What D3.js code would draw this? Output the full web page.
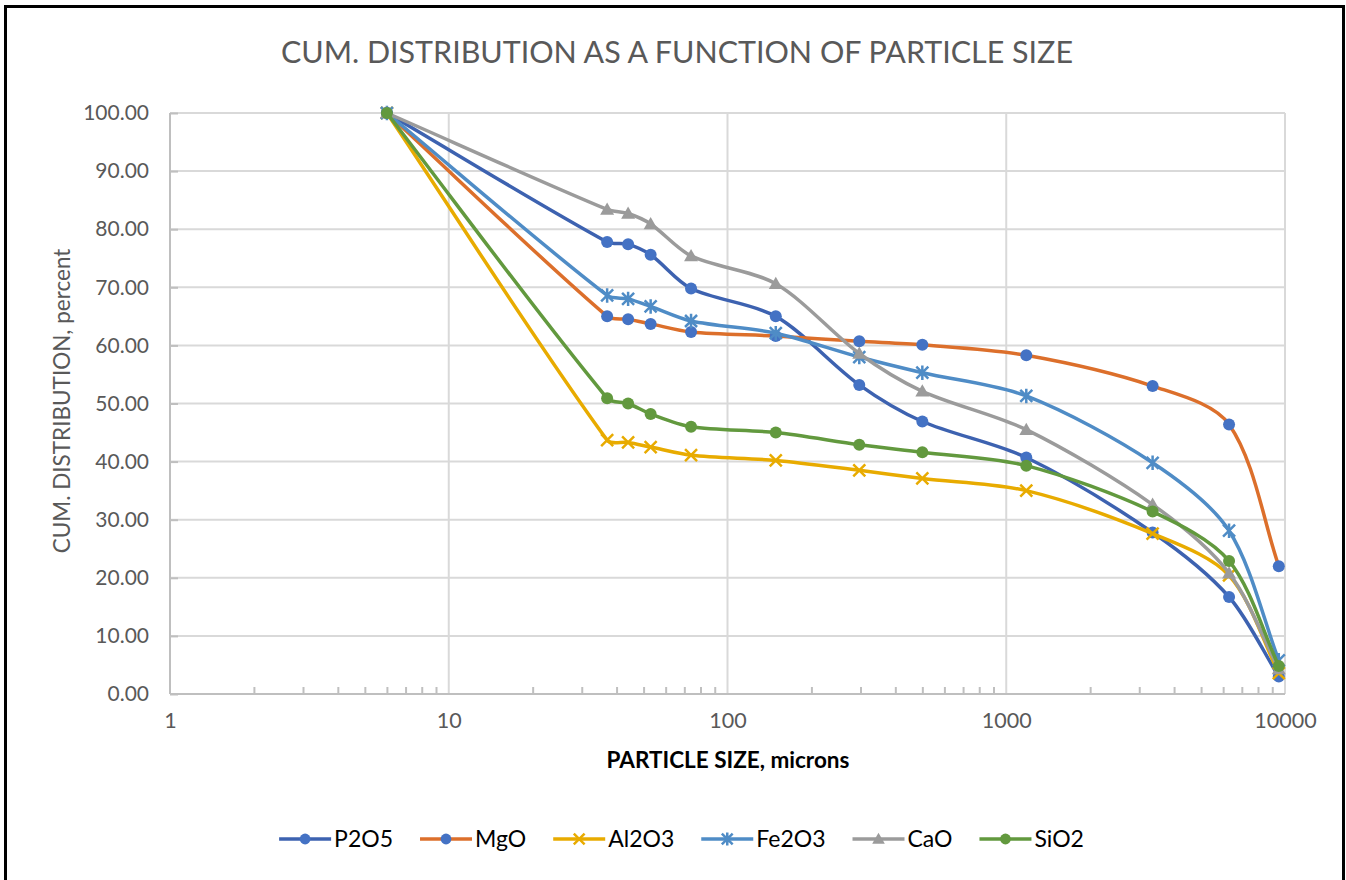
<!DOCTYPE html>
<html>
<head>
<meta charset="utf-8">
<script src="https://cdn.jsdelivr.net/npm/d3@7"></script>
<style>
html,body{margin:0;padding:0;background:#fff;}
svg{display:block;font-family:Lato,"Open Sans",sans-serif;}
</style>
</head>
<body>
<svg id="chart" width="1346" height="880"></svg>
<script>
// ---- data ----
const sizes = [6, 37, 44, 53, 74, 149, 297, 500, 1180, 3350, 6300, 9500];
const P2O5  = [100, 77.8, 77.4, 75.6, 69.8, 65.0, 53.2, 46.9, 40.7, 27.8, 16.7, 3.0];
const MgO   = [100, 65.0, 64.5, 63.7, 62.3, 61.6, 60.7, 60.1, 58.3, 53.0, 46.4, 22.0];
const Al2O3 = [100, 43.7, 43.3, 42.5, 41.1, 40.2, 38.5, 37.1, 35.0, 27.6, 20.4, 3.6];
const Fe2O3 = [100, 68.6, 68.0, 66.7, 64.2, 62.1, 58.0, 55.3, 51.3, 39.8, 28.1, 5.8];
const CaO   = [100, 83.4, 82.7, 80.9, 75.4, 70.6, 58.6, 52.1, 45.5, 32.6, 20.8, 4.3];
const SiO2  = [100, 50.9, 50.0, 48.2, 46.0, 45.0, 42.9, 41.6, 39.3, 31.4, 22.9, 4.8];
const seriesNames = ["P2O5", "MgO", "Al2O3", "Fe2O3", "CaO", "SiO2"];
const yTicks = [0, 10, 20, 30, 40, 50, 60, 70, 80, 90, 100];
const xTicks = [1, 10, 100, 1000, 10000];

const seriesValues = [P2O5, MgO, Al2O3, Fe2O3, CaO, SiO2];
const styles = [
  {line:"#3d62b0", mark:"#4472c4", shape:"circle"},
  {line:"#dc6f2b", mark:"#4472c4", shape:"circle"},
  {line:"#e8ab00", mark:"#e8ab00", shape:"x"},
  {line:"#4f8cc6", mark:"#4f8cc6", shape:"star"},
  {line:"#9b9b9b", mark:"#9b9b9b", shape:"triangle"},
  {line:"#62993e", mark:"#62993e", shape:"circle"}
];

const svg = d3.select("#chart");
const L = 170, R = 1285, T = 113, B = 694;
const x = d3.scaleLog().domain([1, 10000]).range([L, R]);
const y = d3.scaleLinear().domain([0, 100]).range([B, T]);

// frame
svg.append("rect").attr("x", 5.5).attr("y", 6.5).attr("width", 1338).attr("height", 900)
  .attr("fill", "none").attr("stroke", "#000").attr("stroke-width", 3);

// title
svg.append("text").attr("x", 677).attr("y", 63).attr("text-anchor", "middle")
  .attr("fill", "#595959").style("font-size", "30px")
  .attr("textLength", 792).attr("lengthAdjust", "spacingAndGlyphs")
  .text("CUM. DISTRIBUTION AS A FUNCTION OF PARTICLE SIZE");

// gridlines
const grid = svg.append("g");
grid.selectAll("line.h").data(yTicks.filter(d => d > 0)).join("line")
  .attr("x1", L).attr("x2", R).attr("y1", d => y(d)).attr("y2", d => y(d))
  .attr("stroke", "#d9d9d9").attr("stroke-width", 2);
grid.selectAll("line.v").data(xTicks.filter(d => d > 1)).join("line")
  .attr("x1", d => x(d)).attr("x2", d => x(d)).attr("y1", T).attr("y2", B)
  .attr("stroke", "#d9d9d9").attr("stroke-width", 2);

// axes
const yAxis = svg.append("g").attr("transform", `translate(${L},0)`)
  .call(d3.axisLeft(y).tickValues(yTicks).tickFormat(d3.format(".2f")).tickSize(-8).tickPadding(21));
yAxis.select(".domain").attr("stroke", "#bfbfbf").attr("stroke-width", 2).attr("d", `M0,${T}V${B}`);
yAxis.selectAll(".tick line").attr("stroke", "#bfbfbf").attr("stroke-width", 2);
yAxis.selectAll("text").attr("fill", "#595959").style("font-size", "21px").style("font-family", "Lato");

const minor = [];
for (let dec = 1; dec < 10000; dec *= 10) for (let k = 2; k <= 9; k++) minor.push(dec * k);
const xMinor = svg.append("g").attr("transform", `translate(0,${B})`)
  .call(d3.axisBottom(x).tickValues(minor).tickFormat("").tickSize(-7));
xMinor.select(".domain").remove();
xMinor.selectAll(".tick line").attr("stroke", "#bfbfbf").attr("stroke-width", 2);

const xAxis = svg.append("g").attr("transform", `translate(0,${B})`)
  .call(d3.axisBottom(x).tickValues(xTicks).tickFormat(d => String(d)).tickSize(0).tickPadding(19));
xAxis.select(".domain").attr("stroke", "#bfbfbf").attr("stroke-width", 2).attr("d", `M${L},0H${R}`);
xAxis.selectAll("text").attr("fill", "#595959").style("font-size", "21.5px").style("font-family", "Lato");

// axis titles
svg.append("text").attr("transform", "translate(70,401) rotate(-90)").attr("text-anchor", "middle")
  .attr("fill", "#595959").style("font-size", "22.5px").text("CUM. DISTRIBUTION, percent");
svg.append("text").attr("x", 728).attr("y", 768).attr("text-anchor", "middle")
  .attr("fill", "#000").style("font-size", "22.5px").style("font-weight", "bold")
  .text("PARTICLE SIZE, microns");

// markers
function drawMarker(g, shape, color, cx, cy, s) {
  s = s || 1;
  if (shape === "circle") {
    g.append("circle").attr("cx", cx).attr("cy", cy).attr("r", 6 * s).attr("fill", color);
  } else if (shape === "triangle") {
    const h = 7 * s;
    g.append("path").attr("d", `M${cx},${cy - h}L${cx + h},${cy + h * 0.75}L${cx - h},${cy + h * 0.75}Z`).attr("fill", color);
  } else if (shape === "x") {
    const h = 6 * s;
    g.append("path").attr("d", `M${cx - h},${cy - h}L${cx + h},${cy + h}M${cx - h},${cy + h}L${cx + h},${cy - h}`)
      .attr("stroke", color).attr("stroke-width", 2.5).attr("fill", "none");
  } else if (shape === "star") {
    const h = 6 * s;
    g.append("path").attr("d", `M${cx - h},${cy - h}L${cx + h},${cy + h}M${cx - h},${cy + h}L${cx + h},${cy - h}M${cx},${cy - h * 1.2}L${cx},${cy + h * 1.2}`)
      .attr("stroke", color).attr("stroke-width", 2.5).attr("fill", "none");
  }
}

// Excel-like smoothing: tangent from neighbours, handle length proportional to segment length
function ExcelCurve(context) { this._context = context; }
ExcelCurve.prototype = {
  areaStart() {}, areaEnd() {},
  lineStart() { this._p = []; },
  point(px, py) { this._p.push([+px, +py]); },
  lineEnd() {
    const p = this._p, n = p.length, c = this._context, k = 0.3;
    if (!n) return;
    const tan = p.map((q, i) => {
      const a = p[Math.max(0, i - 1)], b = p[Math.min(n - 1, i + 1)];
      const dx = b[0] - a[0], dy = b[1] - a[1], l = Math.hypot(dx, dy) || 1;
      return [dx / l, dy / l];
    });
    c.moveTo(p[0][0], p[0][1]);
    for (let i = 0; i < n - 1; i++) {
      const a = p[i], b = p[i + 1];
      const d = Math.hypot(b[0] - a[0], b[1] - a[1]) * k;
      c.bezierCurveTo(a[0] + tan[i][0] * d, a[1] + tan[i][1] * d,
                      b[0] - tan[i + 1][0] * d, b[1] - tan[i + 1][1] * d, b[0], b[1]);
    }
  }
};
const excelCurve = ctx => new ExcelCurve(ctx);

const line = d3.line().x(d => x(d[0])).y(d => y(d[1])).curve(excelCurve);
const plot = svg.append("g");
seriesValues.forEach((vals, i) => {
  const pts = sizes.map((s, j) => [s, vals[j]]);
  const g = plot.append("g");
  g.append("path").attr("d", line(pts)).attr("fill", "none")
    .attr("stroke", styles[i].line).attr("stroke-width", 3.5).attr("stroke-linejoin", "round").attr("stroke-linecap", "round");
  pts.forEach(p => drawMarker(g, styles[i].shape, styles[i].mark, x(p[0]), y(p[1])));
});

// legend
const leg = svg.append("g");
const ly = 839;
let cur = 0;
seriesNames.forEach((n, i) => {
  const g = leg.append("g");
  g.append("line").attr("x1", cur).attr("x2", cur + 52).attr("y1", ly).attr("y2", ly)
    .attr("stroke", styles[i].line).attr("stroke-width", 3.5);
  drawMarker(g, styles[i].shape, styles[i].mark, cur + 26, ly, 0.9);
  const t = g.append("text").attr("x", cur + 55).attr("y", ly + 8).attr("fill", "#000")
    .style("font-size", "23px").text(n);
  cur += 55 + t.node().getComputedTextLength() + 27;
});
const total = cur - 27;
leg.attr("transform", `translate(${681.5 - total / 2},0)`);
</script>
</body>
</html>
